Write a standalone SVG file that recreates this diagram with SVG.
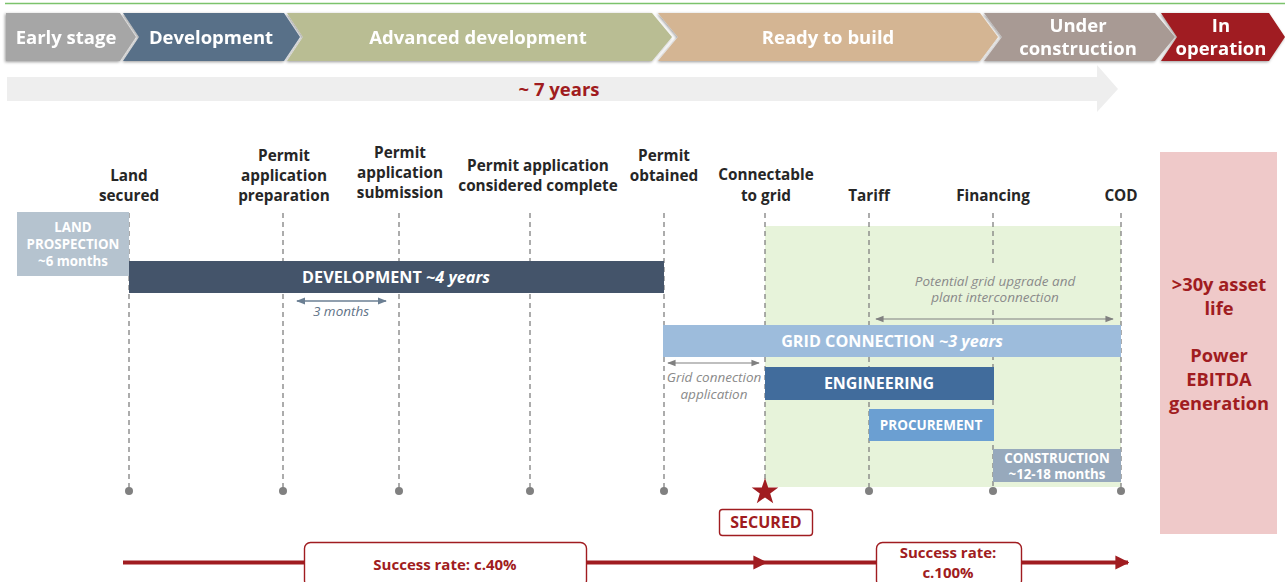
<svg xmlns="http://www.w3.org/2000/svg" width="1285" height="582" viewBox="0 0 1285 582">
  <style>
    .phase { font-family: "Open Sans", "Liberation Sans", sans-serif; font-weight: 700; font-size: 18.5px; fill: #ffffff; text-anchor: middle; }
    .ms { font-family: "Open Sans", "Liberation Sans", sans-serif; font-weight: 700; font-size: 15.3px; fill: #262626; text-anchor: middle; }
    .bar { font-family: "Open Sans", "Liberation Sans", sans-serif; font-weight: 700; fill: #ffffff; text-anchor: middle; }
    .note { font-family: "Open Sans", "Liberation Sans", sans-serif; font-style: italic; font-size: 13.5px; fill: #8a8a8a; text-anchor: middle; }
    .red { font-family: "Open Sans", "Liberation Sans", sans-serif; font-weight: 700; fill: #a01c20; text-anchor: middle; }
    .guide { stroke: #808080; stroke-width: 1.3; stroke-dasharray: 5 4; fill: none; }
    .dot { fill: #808080; }
  </style>
  <defs>
    <filter id="chevShadow" x="-5%" y="-20%" width="110%" height="140%">
      <feDropShadow dx="-1" dy="1" stdDeviation="1.8" flood-color="#000000" flood-opacity="0.4"/>
    </filter>
    <marker id="greyHead" viewBox="0 0 10 10" refX="9" refY="5" markerWidth="7" markerHeight="7" orient="auto-start-reverse">
      <path d="M0,1 L10,5 L0,9 z" fill="#808080"/>
    </marker>
    <marker id="blueHead" viewBox="0 0 10 10" refX="9" refY="5" markerWidth="7" markerHeight="7" orient="auto-start-reverse">
      <path d="M0,1 L10,5 L0,9 z" fill="#6b7f93"/>
    </marker>
    <marker id="redHead" viewBox="0 0 10 10" refX="9" refY="5" markerWidth="3.5" markerHeight="4" orient="auto">
      <path d="M0,0 L10,5 L0,10 z" fill="#a01c20"/>
    </marker>
  </defs>

  <!-- top rule -->
  <line x1="5" y1="3.5" x2="1285" y2="3.5" stroke="#7cc36c" stroke-width="1.5"/>

  <!-- phase chevrons -->
  <g id="phases" filter="url(#chevShadow)">
    <g id="phase-early">
      <polygon points="6,13 120,13 136,37 120,61 6,61" fill="#a6a6a6"/>
      <text class="phase" x="66" y="44">Early stage</text>
    </g>
    <g id="phase-development">
      <polygon points="123,13 284,13 300,37 284,61 123,61 139,37" fill="#587088"/>
      <text class="phase" x="211" y="44">Development</text>
    </g>
    <g id="phase-advanced">
      <polygon points="287,13 652,13 672,37 652,61 287,61 303,37" fill="#b9bd93"/>
      <text class="phase" x="478" y="44">Advanced development</text>
    </g>
    <g id="phase-ready">
      <polygon points="658,13 980,13 998,37 980,61 658,61 678,37" fill="#d4b593"/>
      <text class="phase" x="828" y="44">Ready to build</text>
    </g>
    <g id="phase-construction">
      <polygon points="984,13 1155,13 1175,37 1155,61 984,61 1002,37" fill="#a89a94"/>
      <text class="phase" x="1078" y="32">Under</text>
      <text class="phase" x="1078" y="55">construction</text>
    </g>
    <g id="phase-operation">
      <polygon points="1161,13 1269,13 1285,37 1269,61 1161,61 1177,37" fill="#a01c20"/>
      <text class="phase" x="1221" y="32">In</text>
      <text class="phase" x="1221" y="55">operation</text>
    </g>
  </g>

  <!-- overall duration arrow -->
  <g id="duration">
    <polygon points="7,77 1097,77 1097,65 1118,89 1097,112 1097,101 7,101" fill="#eeeeee"/>
    <text class="red" x="559" y="96" font-size="18.5">~ 7 years</text>
  </g>

  <!-- construction window background -->
  <rect id="build-window" x="765" y="226" width="356" height="261" fill="#e7f3da"/>

  <!-- right-hand operation panel -->
  <g id="operation-panel">
    <rect x="1160" y="152" width="117" height="382" fill="#efc9c9"/>
    <text class="red" font-size="18.3" x="1219" y="291">&gt;30y asset</text>
    <text class="red" font-size="18.3" x="1219" y="315">life</text>
    <text class="red" font-size="18.3" x="1219" y="362">Power</text>
    <text class="red" font-size="18.3" x="1219" y="386">EBITDA</text>
    <text class="red" font-size="18.3" x="1219" y="410">generation</text>
  </g>

  <!-- milestone guides and dots -->
  <g id="connectors">
    <line class="guide" x1="129" y1="213" x2="129" y2="490"/>
    <line class="guide" x1="283" y1="213" x2="283" y2="490"/>
    <line class="guide" x1="399" y1="213" x2="399" y2="490"/>
    <line class="guide" x1="530" y1="213" x2="530" y2="490"/>
    <line class="guide" x1="664" y1="213" x2="664" y2="490"/>
    <line class="guide" x1="765" y1="213" x2="765" y2="490"/>
    <line class="guide" x1="869" y1="213" x2="869" y2="490"/>
    <line class="guide" x1="993" y1="213" x2="993" y2="263"/>
    <line class="guide" x1="993" y1="310" x2="993" y2="490"/>
    <line class="guide" x1="1121" y1="213" x2="1121" y2="490"/>
    <circle class="dot" cx="129" cy="491" r="4"/>
    <circle class="dot" cx="283" cy="491" r="4"/>
    <circle class="dot" cx="399" cy="491" r="4"/>
    <circle class="dot" cx="530" cy="491" r="4"/>
    <circle class="dot" cx="664" cy="491" r="4"/>
    <circle class="dot" cx="869" cy="491" r="4"/>
    <circle class="dot" cx="993" cy="491" r="4"/>
    <circle class="dot" cx="1121" cy="491" r="4"/>
    <!-- span arrows -->
    <line x1="297" y1="301" x2="386" y2="301" stroke="#6b7f93" stroke-width="1.3" marker-start="url(#blueHead)" marker-end="url(#blueHead)"/>
    <line x1="876" y1="319" x2="1113" y2="319" stroke="#808080" stroke-width="1.2" marker-start="url(#greyHead)" marker-end="url(#greyHead)"/>
    <line x1="668" y1="363" x2="759" y2="363" stroke="#808080" stroke-width="1.2" marker-start="url(#greyHead)" marker-end="url(#greyHead)"/>
    <!-- success-rate axis -->
    <line x1="123" y1="562.5" x2="766" y2="562.5" stroke="#a01c20" stroke-width="4" marker-end="url(#redHead)"/>
    <line x1="766" y1="562.5" x2="1128" y2="562.5" stroke="#a01c20" stroke-width="4" marker-end="url(#redHead)"/>
  </g>

  <!-- milestone labels -->
  <g id="milestone-land">
    <text class="ms" x="129" y="181">Land</text>
    <text class="ms" x="129" y="201">secured</text>
  </g>
  <g id="milestone-prep">
    <text class="ms" x="284" y="161">Permit</text>
    <text class="ms" x="284" y="181">application</text>
    <text class="ms" x="284" y="201">preparation</text>
  </g>
  <g id="milestone-submission">
    <text class="ms" x="400" y="158">Permit</text>
    <text class="ms" x="400" y="178">application</text>
    <text class="ms" x="400" y="198">submission</text>
  </g>
  <g id="milestone-complete">
    <text class="ms" x="538" y="171">Permit application</text>
    <text class="ms" x="538" y="191">considered complete</text>
  </g>
  <g id="milestone-permit">
    <text class="ms" x="664" y="161">Permit</text>
    <text class="ms" x="664" y="181">obtained</text>
  </g>
  <g id="milestone-connectable">
    <text class="ms" x="766" y="180">Connectable</text>
    <text class="ms" x="766" y="201">to grid</text>
  </g>
  <g id="milestone-tariff"><text class="ms" x="869" y="201">Tariff</text></g>
  <g id="milestone-financing"><text class="ms" x="993" y="201">Financing</text></g>
  <g id="milestone-cod"><text class="ms" x="1121" y="201">COD</text></g>

  <!-- activity bars -->
  <g id="land-prospection">
    <rect x="17" y="212" width="112" height="64" fill="#b5c3cf"/>
    <text class="bar" font-size="13.3" x="73" y="232">LAND</text>
    <text class="bar" font-size="13.3" x="73" y="249">PROSPECTION</text>
    <text class="bar" font-size="13.3" x="73" y="266">~6 months</text>
  </g>
  <g id="development-bar">
    <rect x="129" y="261" width="535" height="32" fill="#44546a"/>
    <text class="bar" font-size="16.2" x="396" y="283">DEVELOPMENT <tspan font-style="italic">~4 years</tspan></text>
  </g>
  <g id="three-months">
    <text class="note" x="341" y="316" style="fill:#5f7387">3 months</text>
  </g>
  <g id="grid-upgrade-note">
    <text class="note" x="995" y="286">Potential grid upgrade and</text>
    <text class="note" x="995" y="302">plant interconnection</text>
  </g>
  <g id="grid-connection-bar">
    <rect x="663" y="325" width="458" height="32" fill="#9dbcdc"/>
    <text class="bar" font-size="16.2" x="892" y="347">GRID CONNECTION <tspan font-style="italic">~3 years</tspan></text>
  </g>
  <g id="grid-application-note">
    <text class="note" x="714" y="382">Grid connection</text>
    <text class="note" x="714" y="399">application</text>
  </g>
  <g id="engineering-bar">
    <rect x="765" y="367" width="229" height="33" fill="#416c9c"/>
    <text class="bar" font-size="16" x="879" y="389">ENGINEERING</text>
  </g>
  <g id="procurement-bar">
    <rect x="869" y="409" width="125" height="32" fill="#6b9fd2"/>
    <text class="bar" font-size="13.5" x="931" y="430">PROCUREMENT</text>
  </g>
  <g id="construction-bar">
    <rect x="993" y="449" width="128" height="33" fill="#97a9bc"/>
    <text class="bar" font-size="13.3" x="1057" y="463">CONSTRUCTION</text>
    <text class="bar" font-size="13.3" x="1057" y="479">~12-18 months</text>
  </g>

  <!-- grid secured marker -->
  <g id="secured">
    <polygon points="765,478 768.2,487.6 778.3,487.6 770.2,493.6 773.2,503.2 765,497.4 756.8,503.2 759.8,493.6 751.7,487.6 761.8,487.6" fill="#a01c20"/>
    <rect x="719.5" y="509.5" width="93" height="26" rx="3" fill="#ffffff" stroke="#a01c20" stroke-width="1.4"/>
    <text class="red" font-size="16" x="766" y="528">SECURED</text>
  </g>

  <!-- success-rate labels -->
  <g id="success-40">
    <rect x="304.5" y="542.5" width="282" height="44" rx="6" fill="#ffffff" stroke="#a01c20" stroke-width="1.4"/>
    <text class="red" font-size="15" x="445" y="570">Success rate: c.40%</text>
  </g>
  <g id="success-100">
    <rect x="876.5" y="542.5" width="145" height="44" rx="6" fill="#ffffff" stroke="#a01c20" stroke-width="1.4"/>
    <text class="red" font-size="15" x="948" y="558">Success rate:</text>
    <text class="red" font-size="15" x="948" y="578">c.100%</text>
  </g>
</svg>
